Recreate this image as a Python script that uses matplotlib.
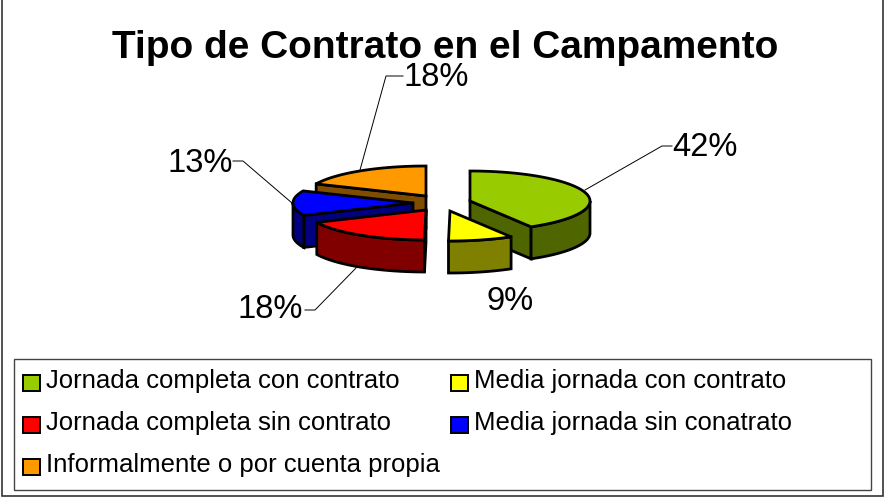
import numpy as np
import matplotlib
matplotlib.use("Agg")
import matplotlib.pyplot as plt
from matplotlib.patches import Polygon, Rectangle

plt.rcParams['font.family'] = ['Liberation Sans', 'DejaVu Sans']

categories = ["Jornada completa con contrato", "Media jornada con contrato",
              "Jornada completa sin contrato", "Media jornada sin conatrato",
              "Informalmente o por cuenta propia"]
values = [41.5, 8.7, 18.0, 13.4, 18.4]
labels = ["42%", "9%", "18%", "13%", "18%"]
title = "Tipo de Contrato en el Campamento"

top_colors = ["#99CC00", "#FFFF00", "#FF0000", "#0000FF", "#FF9900"]
side_colors = ["#4F6600", "#808000", "#800000", "#000080", "#804D00"]
apexes = [(470, 201), (450, 211), (426, 210), (413, 203), (426, 196)]
RX, RY, DEPTH = 120, 30, 32
EDGE = 2.0

fig = plt.figure(figsize=(8.85, 4.99), dpi=100)
ax = fig.add_axes([0, 0, 1, 1])
ax.set_xlim(0, 885)
ax.set_ylim(499, 0)
ax.axis("off")

ax.add_patch(Rectangle((2, -5), 881, 501, fc="white", ec="#333333", lw=1.2))

edges = np.concatenate([[0], np.cumsum(values)]) / sum(values) * 360


def rim(c, a0, a1, dz=0):
    t = np.radians(np.linspace(a0, a1, 60))
    return np.column_stack([c[0] + RX * np.sin(t), c[1] - RY * np.cos(t) + dz])


def poly(pts, color, z):
    ax.add_patch(Polygon(pts, closed=True, fc=color, ec="black", lw=EDGE,
                         joinstyle="miter", zorder=z))


# draw from the back to the front
for z, i in enumerate([4, 3, 2, 0, 1]):
    a0, a1 = edges[i], edges[i + 1]
    c = apexes[i]
    base = 2 + z
    # radial walls that face the viewer
    if 180 < a0 < 360:
        p = rim(c, a0, a0)[0]
        poly([c, p, p + [0, DEPTH], (c[0], c[1] + DEPTH)], side_colors[i], base)
    if 0 < a1 < 180:
        p = rim(c, a1, a1)[0]
        poly([c, p, p + [0, DEPTH], (c[0], c[1] + DEPTH)], side_colors[i], base)
    # outer wall, visible on the front half of the ellipse
    v0, v1 = max(a0, 90), min(a1, 270)
    if v1 > v0:
        poly(np.vstack([rim(c, v0, v1), rim(c, v1, v0, DEPTH)]), side_colors[i], base + 0.1)
    # top face
    poly(np.vstack([[c], rim(c, a0, a1)]), top_colors[i], base + 0.2)

# leader lines and value labels
leaders = [[(585, 190), (662, 146), (672, 146)],
           None,
           [(357, 267), (315, 310), (305, 310)],
           [(292, 203), (243, 161), (233, 161)],
           [(360, 170), (386, 76), (403, 76)]]
label_pos = [(705, 148), (510, 301), (270, 309), (200, 163), (436, 77)]
for lead, lab, pos in zip(leaders, labels, label_pos):
    if lead is not None:
        ax.plot(*zip(*lead), color="black", lw=0.7, zorder=1)
    ax.text(pos[0], pos[1], lab, fontsize=23.5, ha="center", va="center", zorder=20)

ax.text(445, 48, title, fontsize=28, fontweight="bold", ha="center", va="center", zorder=21)

# legend
ax.add_patch(Rectangle((14, 359), 857, 131, fc="white", ec="#444444", lw=1.0, zorder=30))
legend_pos = [(23, 380), (451, 380), (23, 422), (451, 422), (23, 464)]
for name, col, (x, y) in zip(categories, top_colors, legend_pos):
    ax.add_patch(Rectangle((x, y - 5), 17, 16, fc=col, ec="black", lw=1.4, zorder=31))
    ax.text(x + 23, y + 1, name, fontsize=18.5, ha="left", va="center", zorder=31)

fig.savefig("out.png", dpi=100)
